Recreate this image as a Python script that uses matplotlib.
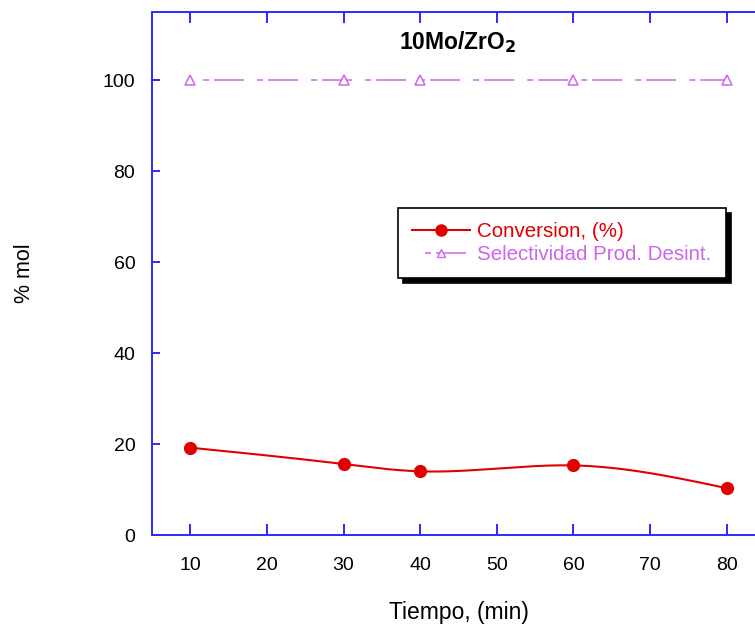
import numpy as np
import matplotlib
matplotlib.use("Agg")
import matplotlib.pyplot as plt
from matplotlib.lines import Line2D

plt.rcParams['font.family'] = ['Liberation Sans', 'DejaVu Sans']
plt.rcParams['lines.scale_dashes'] = False

# Data
tiempo = [10, 30, 40, 60, 80]
conversion = [19.2, 15.6, 14.0, 15.3, 10.3]
selectividad = [100, 100, 100, 100, 100]
x_ticks = [10, 20, 30, 40, 50, 60, 70, 80]
y_ticks = [0, 20, 40, 60, 80, 100]

BLUE = '#2a2aff'
RED = '#e00000'
VIOLET = '#cc66ee'
# long dash, gap, short dash, gap; start at the first gap
DASHDOT = (21.6, (21.6, 9.4, 4.3, 3.6))


def natural_spline(x, y, n=200):
    """Natural cubic spline through (x, y), evaluated on n points."""
    x = np.asarray(x, float)
    y = np.asarray(y, float)
    k = len(x)
    h = np.diff(x)
    A = np.zeros((k, k))
    b = np.zeros(k)
    A[0, 0] = A[-1, -1] = 1.0
    for i in range(1, k - 1):
        A[i, i - 1] = h[i - 1]
        A[i, i] = 2 * (h[i - 1] + h[i])
        A[i, i + 1] = h[i]
        b[i] = 3 * ((y[i + 1] - y[i]) / h[i] - (y[i] - y[i - 1]) / h[i - 1])
    c = np.linalg.solve(A, b)
    xs = np.linspace(x[0], x[-1], n)
    ys = np.empty_like(xs)
    for j, xv in enumerate(xs):
        i = min(np.searchsorted(x, xv, side='right') - 1, k - 2)
        dx = xv - x[i]
        bi = (y[i + 1] - y[i]) / h[i] - h[i] * (2 * c[i] + c[i + 1]) / 3
        di = (c[i + 1] - c[i]) / (3 * h[i])
        ys[j] = y[i] + bi * dx + c[i] * dx ** 2 + di * dx ** 3
    return xs, ys


fig = plt.figure(figsize=(7.55, 6.26), dpi=100)
ax = fig.add_axes([152 / 755, 91 / 626, 613 / 755, 523 / 626])

# Conversion: smooth curve plus markers
xs, ys = natural_spline(tiempo, conversion)
ax.plot(xs, ys, color=RED, lw=1.5, zorder=3)
ax.plot(tiempo, conversion, 'o', color=RED, ms=8.5, zorder=4)

# Selectivity: dash-dot line with open triangles
ax.plot(tiempo, selectividad, color=VIOLET, lw=1.1, linestyle=DASHDOT,
        marker='^', ms=7, mfc='white', mec=VIOLET, mew=1.1, zorder=3)

ax.set_xlim(5, 85)
ax.set_ylim(0, 115)
ax.set_xticks(x_ticks)
ax.set_yticks(y_ticks)

for s in ax.spines.values():
    s.set_color(BLUE)
    s.set_linewidth(1.4)

ax.tick_params(axis='x', direction='in', length=8, width=1.4, color=BLUE,
               top=True, labelsize=14, pad=16)
ax.tick_params(axis='y', direction='in', length=6, width=1.4, color=BLUE,
               right=True, labelsize=14, pad=12)

ax.set_xlabel('Tiempo, (min)', fontsize=16.5, labelpad=19)
ax.set_ylabel('% mol', fontsize=15.5, labelpad=49)
ax.text(0.499, 0.943, r'10Mo/ZrO$_\mathbf{2}$', transform=ax.transAxes,
        ha='center', va='center', fontsize=16.5, fontweight='bold')

handles = [
    Line2D([0], [0], color=RED, lw=1.5, marker='o', ms=8),
    Line2D([0], [0], color=VIOLET, lw=1.1, marker='^', ms=6, mfc='white',
           mec=VIOLET, linestyle=DASHDOT),
]
leg = ax.legend(handles, ['Conversion, (%)', 'Selectividad Prod. Desint.'],
                loc='upper left', bbox_to_anchor=(246 / 613, (535 - 208) / 523),
                fontsize=14.75, labelcolor=[RED, VIOLET], frameon=True, fancybox=False,
                edgecolor='black', framealpha=1, borderpad=0.7, labelspacing=0.18,
                handlelength=2.83, handletextpad=0.34, borderaxespad=0,
                shadow={'color': 'black', 'alpha': 1, 'ox': 3.5, 'oy': -3.5})
leg.get_frame().set_linewidth(1.2)

fig.savefig('out.png', dpi=100)
